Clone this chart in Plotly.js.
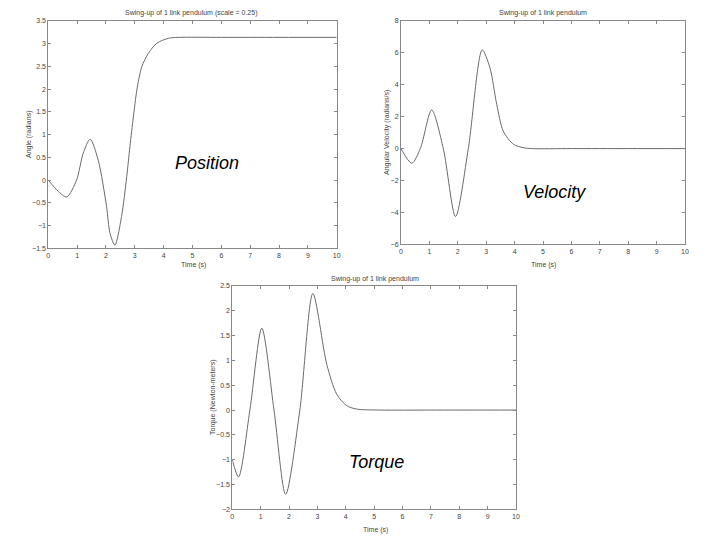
<!DOCTYPE html>
<html>
<head>
<meta charset="utf-8">
<script src="https://cdn.plot.ly/plotly-3.0.1.min.js"></script>
<style>html,body{margin:0;padding:0;background:#fff;}#chart{width:720px;height:540px;}</style>
</head>
<body>
<div id="chart"></div>
<script>
// ---- data ----
const posTime  = [0, 0.35, 0.64, 0.98, 1.21, 1.45, 1.73, 2.02, 2.14, 2.31, 2.54, 2.72, 2.83, 2.95, 3.07, 3.24, 3.47, 3.76, 4.17, 4.51, 6, 8, 10];
const posAngle = [0, -0.25, -0.37, 0.0, 0.59, 0.90, 0.44, -0.58, -1.17, -1.43, -0.80, 0.08, 0.74, 1.39, 1.98, 2.49, 2.79, 3.01, 3.12, 3.14, 3.14, 3.14, 3.14];

const velTime  = [0, 0.38, 0.68, 1.08, 1.49, 1.92, 2.37, 2.86, 3.13, 3.37, 3.60, 3.96, 4.30, 4.60, 6, 8, 10];
const velValue = [0, -0.92, 0, 2.42, 0, -4.26, 0, 6.19, 5.08, 2.78, 1.10, 0.27, 0.06, 0, 0, 0, 0];

const torTime  = [0, 0.22, 0.62, 1.04, 1.47, 1.88, 2.38, 2.84, 3.33, 3.68, 4.03, 4.38, 5.2, 7, 10];
const torValue = [-1.0, -1.35, 0, 1.65, 0, -1.70, 0, 2.35, 0.92, 0.32, 0.09, 0.02, 0, 0, 0];

const xTicks = [0,1,2,3,4,5,6,7,8,9,10];
const posTicks = [3.5,3,2.5,2,1.5,1,0.5,0,-0.5,-1,-1.5];
const velTicks = [8,6,4,2,0,-2,-4,-6];
const torTicks = [2.5,2,1.5,1,0.5,0,-0.5,-1,-1.5,-2];

const titles = ["Swing-up of 1 link pendulum (scale = 0.25)", "Swing-up of 1 link pendulum", "Swing-up of 1 link pendulum"];
const yLabels = ["Angle (radians)", "Angular Velocity (radians/s)", "Torque (Newton-meters)"];
const xLabel = "Time (s)";
const tags = ["Position", "Velocity", "Torque"];

// ---- layout helpers ----
const W = 720, H = 540;
const px = v => v / W;
const py = v => 1 - v / H;
const lineCol = "#6a6a6a";
const axCol = "#888";
const tickFont = {family: "Liberation Sans, Arial, sans-serif", size: 7, color: "#444"};

function trace(x, y, xa, ya) {
  return {x: x, y: y, xaxis: xa, yaxis: ya, type: "scatter", mode: "lines",
          line: {color: lineCol, width: 1, shape: "spline", smoothing: 0.8}, hoverinfo: "skip", showlegend: false};
}
function xaxis(d0, d1, anchor) {
  return {domain: [px(d0), px(d1)], anchor: anchor, range: [0, 10], tickvals: xTicks,
          ticks: "inside", ticklen: 3, tickcolor: axCol, showline: true, linecolor: axCol, linewidth: 1,
          mirror: "ticks", showgrid: false, zeroline: false, tickfont: tickFont, fixedrange: true};
}
function yaxis(d0, d1, anchor, range, vals) {
  return {domain: [py(d1), py(d0)], anchor: anchor, range: range, tickvals: vals,
          ticks: "inside", ticklen: 3, tickcolor: axCol, showline: true, linecolor: axCol, linewidth: 1,
          mirror: "ticks", showgrid: false, zeroline: false, tickfont: tickFont, fixedrange: true};
}
function ann(text, x, y, opts) {
  return Object.assign({text: text, x: px(x), y: py(y), xref: "paper", yref: "paper", showarrow: false,
          xanchor: "center", yanchor: "middle",
          font: {family: "Liberation Sans, Arial, sans-serif", size: 7, color: "#444"}}, opts || {});
}
const tagFont = {family: "Liberation Sans, Arial, sans-serif", size: 18, color: "#000"};

const data = [
  trace(posTime, posAngle, "x", "y"),
  trace(velTime, velValue, "x2", "y2"),
  trace(torTime, torValue, "x3", "y3")
];

const layout = {
  width: W, height: H, margin: {l: 0, r: 0, t: 0, b: 0},
  paper_bgcolor: "#fff", plot_bgcolor: "#fff", showlegend: false,
  xaxis:  xaxis(48.3, 336.7, "y"),
  yaxis:  yaxis(21, 248.3, "x", [-1.5, 3.5], posTicks),
  xaxis2: xaxis(401, 685, "y2"),
  yaxis2: yaxis(21, 244.3, "x2", [-6, 8], velTicks),
  xaxis3: xaxis(232.3, 516, "y3"),
  yaxis3: yaxis(286, 509.3, "x3", [-2, 2.5], torTicks),
  annotations: [
    ann(titles[0], 191.7, 13),
    ann(titles[1], 542.7, 13),
    ann(titles[2], 375, 279),
    ann(yLabels[0], 29, 135, {textangle: -90}),
    ann(yLabels[1], 387, 133, {textangle: -90}),
    ann(yLabels[2], 213, 398, {textangle: -90}),
    ann(xLabel, 193.3, 264.5),
    ann(xLabel, 543.3, 265),
    ann(xLabel, 375, 530),
    ann("<i>" + tags[0] + "</i>", 206.7, 162.7, {font: tagFont}),
    ann("<i>" + tags[1] + "</i>", 554.3, 191.7, {font: tagFont}),
    ann("<i>" + tags[2] + "</i>", 376.7, 462.3, {font: tagFont})
  ]
};

Plotly.newPlot("chart", data, layout, {staticPlot: true, displayModeBar: false});
</script>
</body>
</html>
